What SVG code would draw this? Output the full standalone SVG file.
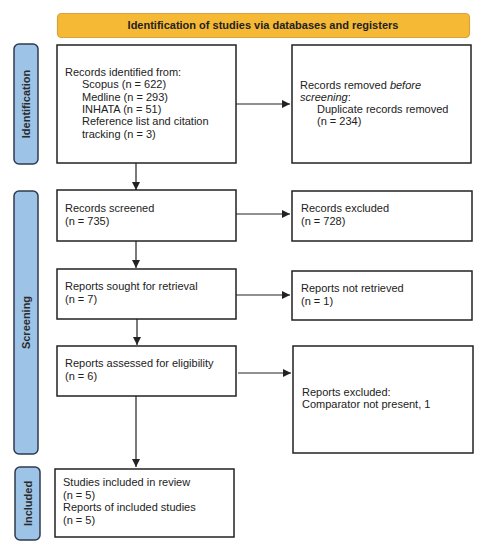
<svg xmlns="http://www.w3.org/2000/svg" width="486" height="550" viewBox="0 0 486 550">
<style>
text{font-family:"Liberation Sans",Arial,sans-serif;font-size:11px;fill:#222}
.hdr{font-weight:bold;text-anchor:middle}
.side{font-weight:bold;text-anchor:middle;fill:#2b2b2b}
.box{fill:#fff;stroke:#222;stroke-width:1.5}
.bar{fill:#9DC3E6;stroke:#2E3B4E;stroke-width:1.5}
.conn{stroke:#222;stroke-width:1.2;fill:none;marker-end:url(#ah)}
</style>
<defs>
<marker id="ah" viewBox="0 0 10 10" refX="10" refY="5" markerWidth="8" markerHeight="8" markerUnits="userSpaceOnUse" orient="auto">
<path d="M0,0 L10,5 L0,10 z" fill="#222"/>
</marker>
</defs>
<rect width="486" height="550" fill="#fff"/>
<g id="header">
<rect x="57.5" y="13.5" width="412" height="24" rx="4" fill="#F6B936" stroke="#D9A23A" stroke-width="1.2"/>
<text class="hdr" x="263" y="29">Identification of studies via databases and registers</text>
</g>
<g id="bar-identification">
<rect class="bar" x="14" y="44" width="24" height="120" rx="5"/>
<text class="side" transform="translate(30,104) rotate(-90)">Identification</text>
</g>
<g id="bar-screening">
<rect class="bar" x="14" y="191" width="24" height="263" rx="5"/>
<text class="side" transform="translate(30,322.5) rotate(-90)">Screening</text>
</g>
<g id="bar-included">
<rect class="bar" x="15" y="467" width="25" height="73" rx="5"/>
<text class="side" transform="translate(31.5,503.5) rotate(-90)">Included</text>
</g>
<g id="connectors">
<path class="conn" d="M236,104 H290"/>
<path class="conn" d="M136,163 V190"/>
<path class="conn" d="M236,214 H290"/>
<path class="conn" d="M136,241 V268"/>
<path class="conn" d="M236,295 H290"/>
<path class="conn" d="M137,319 V345"/>
<path class="conn" d="M238,373 H291"/>
<path class="conn" d="M136,396 V467"/>
</g>
<g id="records-identified">
<rect class="box" x="57" y="45" width="179" height="118"/>
<text x="65" y="76">Records identified from:</text>
<text x="82" y="88">Scopus (n = 622)</text>
<text x="82" y="100.5">Medline (n = 293)</text>
<text x="82" y="113">INHATA (n = 51)</text>
<text x="82" y="125">Reference list and citation</text>
<text x="82" y="137.5">tracking (n = 3)</text>
</g>
<g id="records-removed">
<rect class="box" x="292" y="45" width="179" height="118"/>
<text x="300" y="89">Records removed <tspan font-style="italic">before</tspan></text>
<text x="300" y="101"><tspan font-style="italic">screening</tspan>:</text>
<text x="317" y="113">Duplicate records removed</text>
<text x="317" y="125">(n = 234)</text>
</g>
<g id="records-screened">
<rect class="box" x="57" y="190" width="179" height="51"/>
<text x="65" y="212">Records screened</text>
<text x="65" y="224.5">(n = 735)</text>
</g>
<g id="records-excluded">
<rect class="box" x="292" y="191" width="180" height="50"/>
<text x="301" y="212">Records excluded</text>
<text x="301" y="224.5">(n = 728)</text>
</g>
<g id="reports-sought">
<rect class="box" x="57" y="269" width="179" height="50"/>
<text x="65" y="290">Reports sought for retrieval</text>
<text x="65" y="302.5">(n = 7)</text>
</g>
<g id="reports-not-retrieved">
<rect class="box" x="292" y="271" width="180" height="49"/>
<text x="301" y="292">Reports not retrieved</text>
<text x="301" y="304.5">(n = 1)</text>
</g>
<g id="reports-assessed">
<rect class="box" x="57" y="346" width="179" height="50"/>
<text x="65" y="367">Reports assessed for eligibility</text>
<text x="65" y="379.5">(n = 6)</text>
</g>
<g id="reports-excluded">
<rect class="box" x="293" y="346" width="180" height="107"/>
<text x="302" y="396">Reports excluded:</text>
<text x="302" y="408">Comparator not present, 1</text>
</g>
<g id="studies-included">
<rect class="box" x="55" y="469" width="179" height="68"/>
<text x="63" y="486">Studies included in review</text>
<text x="63" y="498.5">(n = 5)</text>
<text x="63" y="511">Reports of included studies</text>
<text x="63" y="523.5">(n = 5)</text>
</g>
</svg>
